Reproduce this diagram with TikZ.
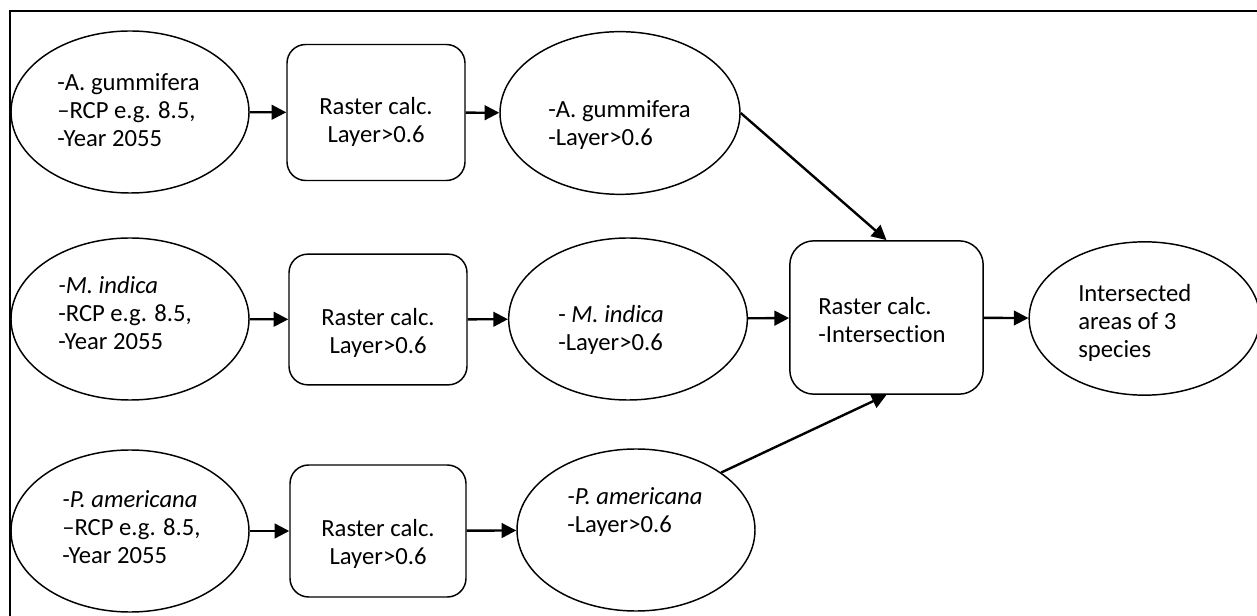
\documentclass[tikz,border=0pt]{standalone}
\usepackage{fontspec}
\setmainfont{Carlito}[Ligatures=NoCommon]
\usetikzlibrary{shapes.geometric,arrows.meta}
\begin{document}
\begin{tikzpicture}[x=0.75pt,y=-0.75pt,
  ell/.style={draw, ellipse, line width=1.1pt, inner sep=0pt, minimum width=178.5pt, minimum height=121.5pt},
  rbox/.style={draw, rectangle, rounded corners=14pt, line width=1.1pt, inner sep=0pt, minimum width=133.5pt, minimum height=102pt},
  txt/.style={inner sep=0pt, align=left, font=\fontsize{18.5}{21}\selectfont},
  ctxt/.style={inner sep=0pt, align=center, font=\fontsize{18.5}{21}\selectfont},
  arr/.style={-{Triangle[length=11pt,width=11pt]}, line width=1.8pt},
  frame/.style={line width=1.5pt}]
\useasboundingbox (0,0) rectangle (1257,616);
\draw[frame] (10,620) -- (10,11) -- (1262,11);

% row 1
\node[ell] (e1) at (130,112) {};
\node[rbox] (b1) at (376,112.5) {};
\node[ell, minimum width=180pt, minimum height=122pt] (o1) at (620,113) {};
% row 2
\node[ell] (e2) at (130,319) {};
\node[rbox, minimum height=98pt] (b2) at (378,319.5) {};
\node[ell, minimum width=179pt] (o2) at (628,319) {};
% row 3
\node[ell] (e3) at (130,531) {};
\node[rbox, minimum width=132pt, minimum height=99pt] (b3) at (378,531) {};
\node[ell] (o3) at (636,530) {};
% central and final
\node[rbox, rounded corners=18pt, minimum width=145pt, minimum height=115pt] (c) at (886.5,317.5) {};
\node[ell, minimum width=173pt, minimum height=115pt] (f) at (1144.5,318.5) {};

% texts
\node[txt, anchor=west] (te1) at (57,110) {-A. gummifera\\–RCP e.g. 8.5,\\-Year 2055};
\node[txt, anchor=west] (te2) at (58,313) {\textit{-M. indica}\\-RCP e.g. 8.5,\\-Year 2055};
\node[txt, anchor=west] (te3) at (62,527) {\textit{-P. americana}\\–RCP e.g. 8.5,\\-Year 2055};
\node[ctxt] (tb1) at (376,122) {Raster calc.\\Layer>0.6};
\node[ctxt] (tb2) at (378,333) {Raster calc.\\Layer>0.6};
\node[ctxt] (tb3) at (378,544) {Raster calc.\\Layer>0.6};
\node[txt, anchor=west] (to1) at (548,125) {-A. gummifera\\-Layer>0.6};
\node[txt, anchor=west] (to2) at (558,330) {- \textit{M. indica}\\-Layer>0.6};
\node[txt, anchor=west] (to3) at (567,512) {\textit{-P. americana}\\-Layer>0.6};
\node[txt, anchor=west] (tc) at (818,320) {Raster calc.\\-Intersection};
\node[txt, anchor=west] (tf) at (1078,323) {Intersected\\areas of 3\\species};

% connectors
\draw[arr] (e1) -- (b1);
\draw[arr] (b1) -- (o1);
\draw[arr] (e2) -- (b2);
\draw[arr] (b2) -- (o2);
\draw[arr] (e3) -- (b3);
\draw[arr] (b3) -- (o3);
\draw[arr] (o2) -- (c);
\draw[arr] (c) -- (f);
\draw[arr] (o1.east) -- (c.north);
\draw[arr] (o3.34) -- (c.south);
\end{tikzpicture}
\end{document}
